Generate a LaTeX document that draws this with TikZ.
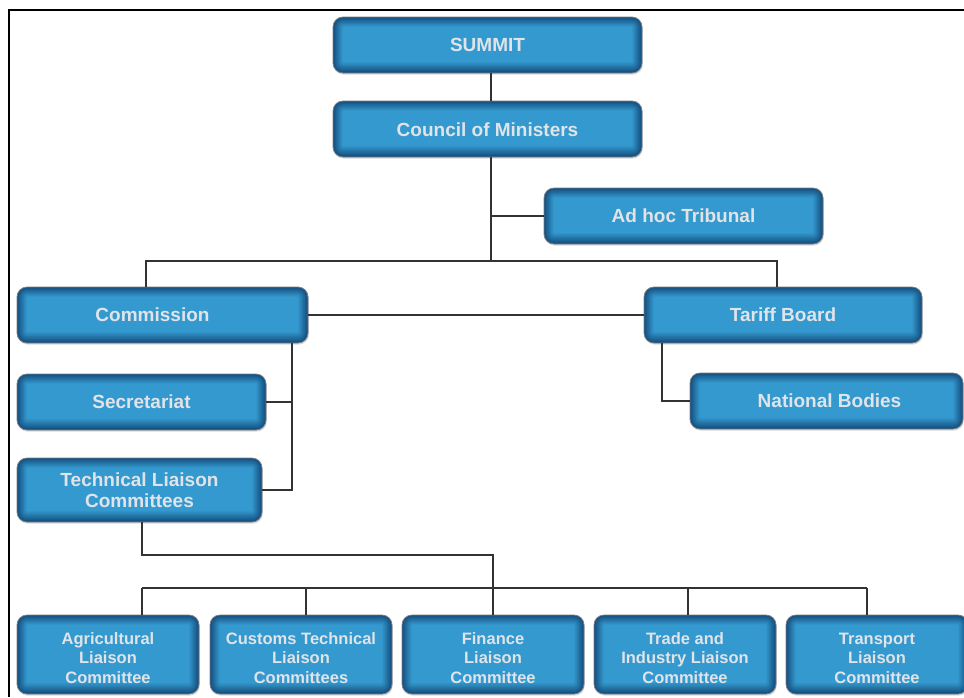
\documentclass[tikz,border=0pt]{standalone}
\usepackage{fontspec}
\setmainfont{Liberation Sans}
\usetikzlibrary{shadows}

\definecolor{boxdark}{RGB}{20,78,126}
\definecolor{boxlight}{RGB}{52,153,206}
\definecolor{boxtext}{RGB}{224,228,233}
\definecolor{boxedge}{RGB}{120,128,136}
\definecolor{linkgray}{RGB}{50,50,50}

\begin{document}
\begin{tikzpicture}[x=1pt,y=-1pt,
  orgbox/.style={
    draw=boxedge, line width=0.8pt, rounded corners=10pt, fill=boxdark,
    drop shadow={shadow xshift=0.8pt, shadow yshift=-1.6pt, opacity=0.3},
    path picture={
      \foreach \k in {1,...,12}{
        \pgfmathtruncatemacro{\mix}{\k*100/12}
        \pgfmathsetmacro{\rr}{max(10-0.8*\k,1.5)}
        \fill[boxlight!\mix!boxdark, rounded corners=\rr pt]
          ([xshift=\k*0.8pt, yshift=-\k*0.8pt]path picture bounding box.north west)
          rectangle ([xshift=-\k*0.8pt, yshift=\k*0.9pt]path picture bounding box.south east);
      }
    },
    text=boxtext, align=center, inner sep=0pt,
    font=\bfseries\fontsize{19}{21}\selectfont},
  unitbox/.style={orgbox, minimum width=182pt, minimum height=79pt,
    font=\bfseries\fontsize{16.5}{19.5}\selectfont},
  link/.style={draw=linkgray, line width=1.4pt},
  frame/.style={draw=black, line width=2pt}
]
\useasboundingbox (0,0) rectangle (964,697);

% outer frame (top and left edges)
\draw[frame] (9,697) -- (9,10) -- (964,10);

% governing bodies
\node[orgbox, minimum width=309pt, minimum height=56pt] (summit) at (487.5,45) {SUMMIT};
\node[orgbox, minimum width=309pt, minimum height=56pt] (council) at (487.5,129) {\rule{0pt}{16pt}Council of Ministers};
\node[orgbox, minimum width=279pt, minimum height=56pt] (tribunal) at (683.5,216) {Ad hoc Tribunal};
\node[orgbox, minimum width=291pt, minimum height=56pt] (commission) at (162.5,315) {\hspace{-20pt}Commission};
\node[orgbox, minimum width=278pt, minimum height=56pt] (tariff) at (783,315) {Tariff Board};
\node[orgbox, minimum width=249pt, minimum height=56pt] (secretariat) at (141.5,402) {Secretariat};
\node[orgbox, minimum width=245pt, minimum height=64pt] (tlc) at (139.5,490) {Technical Liaison\\Committees};
\node[orgbox, minimum width=273pt, minimum height=56pt] (national) at (826.5,401) {\hspace{6pt}National Bodies};

% liaison committees (a tall strut on the first line lowers each text block)
\node[unitbox] (agri) at (108,654.5) {\rule{0pt}{19pt}Agricultural\\Liaison\\Committee};
\node[unitbox] (customs) at (301,654.5) {\rule{0pt}{19pt}Customs Technical\\Liaison\\Committees};
\node[unitbox] (finance) at (493,654.5) {\rule{0pt}{19pt}Finance\\Liaison\\Committee};
\node[unitbox] (trade) at (685,654.5) {\rule{0pt}{19pt}Trade and\\Industry Liaison\\Committee};
\node[unitbox] (transport) at (877,654.5) {\rule{0pt}{19pt}Transport\\Liaison\\Committee};

% routing points
\coordinate (spine) at (491,0);
\coordinate (busL) at (146,261);
\coordinate (busR) at (777,261);
\coordinate (cx) at (292,0);
\coordinate (tx) at (662,0);
\coordinate (tdrop) at (142,555);
\coordinate (d1) at (142,588);
\coordinate (d2) at (306,588);
\coordinate (d3) at (493,588);
\coordinate (d4) at (688,588);
\coordinate (d5) at (867,588);

% upper hierarchy
\draw[link] (summit.south -| spine) -- (council.north -| spine);
\draw[link] (council.south -| spine) -- (busL -| spine);
\draw[link] (tribunal.west) -- (tribunal.west -| spine);
\draw[link] (commission.north -| busL) -- (busL) -- (busR) -- (tariff.north -| busR);
\draw[link] (commission.east) -- (tariff.west);

% commission branch
\draw[link] (commission.south -| cx) -- (cx |- tlc.east) -- (tlc.east);
\draw[link] (secretariat.east) -- (secretariat.east -| cx);

% tariff board branch
\draw[link] (tariff.south -| tx) -- (tx |- national.west) -- (national.west);

% committees bus
\draw[link] (tlc.south -| tdrop) -- (tdrop) -| (finance.north);
\draw[link] (d1) -- (d5);
\draw[link] (d1) -- (d1 |- agri.north);
\draw[link] (d2) -- (d2 |- customs.north);
\draw[link] (d4) -- (d4 |- trade.north);
\draw[link] (d5) -- (d5 |- transport.north);
\end{tikzpicture}
\end{document}
